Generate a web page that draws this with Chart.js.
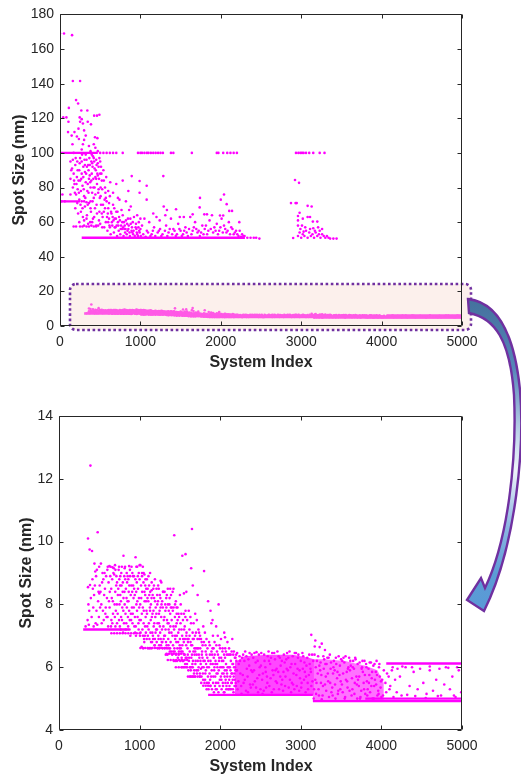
<!DOCTYPE html>
<html>
<head>
<meta charset="utf-8">
<script src="https://cdn.jsdelivr.net/npm/chart.js@4.4.1/dist/chart.umd.min.js"></script>
<style>
html,body{margin:0;padding:0;background:#fff;}
#wrap{position:relative;width:521px;height:775px;overflow:hidden;font-family:"Liberation Sans",Arial,sans-serif;}
.abs{position:absolute;}
.ttl{position:absolute;font-weight:bold;font-size:16px;line-height:18px;height:18px;color:#262626;text-align:center;white-space:nowrap;}
.rot{transform:rotate(-90deg);}
</style>
</head>
<body>
<div id="wrap">
<svg class="abs" style="left:0;top:0" width="521" height="775">
  <rect x="70" y="284" width="401" height="46" rx="6" ry="6" fill="#fcf0ec" stroke="#7030a0" stroke-width="2.6" stroke-dasharray="2.6 2.6"/>
</svg>
<div class="abs" style="left:0;top:0;width:521px;height:390px"><canvas id="c1" width="521" height="390"></canvas></div>
<div class="abs" style="left:0;top:390px;width:521px;height:385px"><canvas id="c2" width="521" height="385"></canvas></div>
<svg class="abs" style="left:0;top:0;pointer-events:none" width="521" height="775">
  <defs>
    <linearGradient id="ag" x1="0" y1="299" x2="0" y2="612" gradientUnits="userSpaceOnUse">
      <stop offset="0" stop-color="#44719d"/>
      <stop offset="0.22" stop-color="#5585b8"/>
      <stop offset="0.45" stop-color="#c9dbee"/>
      <stop offset="0.55" stop-color="#eef3fa"/>
      <stop offset="0.72" stop-color="#8fb8e2"/>
      <stop offset="0.88" stop-color="#5b9bd5"/>
      <stop offset="1" stop-color="#5a9ad6"/>
    </linearGradient>
  </defs>
  <path d="M 468 299 C 495 302, 514 330, 520 390 C 525 450, 515 540, 490 598 L 484 611 L 467 600 L 481 578 L 485 588 C 508 540, 517 460, 514 395 C 510 340, 495 318, 469 313 Z"
        fill="url(#ag)" stroke="#7030a0" stroke-width="2.4" stroke-linejoin="miter"/>
</svg>
<div class="ttl" style="left:61px;width:400px;top:353px;">System Index</div>
<div class="ttl" style="left:61px;width:400px;top:757px;">System Index</div>
<div class="ttl rot" style="left:-81.5px;width:200px;top:161px;">Spot Size (nm)</div>
<div class="ttl rot" style="left:-74px;width:200px;top:564px;">Spot Size (nm)</div>
</div>
<script>
// ---------- axes ----------
const xRange = [0, 5000];
const xStep = 1000;
const topYRange = [0, 180];
const topYStep = 20;
const botYRange = [4, 14];
const botYStep = 2;

// ---------- top panel: large spot sizes (x, y pairs) ----------
const topCloudEarly = [
0,169, 50,169, 150,168, 160,141.5, 250,141.5, 200,130.5, 225,128.5, 110,126, 265,124.5, 340,124.5,
40,120.5, 80,120.5, 105,118, 245,120.5, 270,119.5, 250,118, 285,117, 345,118, 385,116.5, 425,121.5,
460,121.5, 490,122, 100,112, 210,109.5, 235,108, 300,107.5, 435,109, 465,108.5, 155,105, 285,105,
420,105, 180,112, 300,113, 320,110, 360,104, 230,114, 145,110,
0,76, 30,76, 130,76, 270,72, 300,72, 330,71.5, 380,72, 20,72, 60,72,
250,57.5, 280,57.5, 300,58, 330,57.5, 360,57.5, 390,58, 420,57.5, 450,57.5, 170,57.5, 200,57.5,
130,95, 150,91, 170,88, 190,93, 210,86, 230,84, 250,97, 270,95, 290,92, 310,89, 330,96, 350,93,
370,87, 390,95, 410,98, 430,91, 450,96, 470,94, 490,97, 510,92, 160,80, 180,82, 200,76, 220,79,
240,73, 260,78, 280,81, 300,75, 320,83, 340,78, 360,85, 380,80, 400,77, 420,74, 440,86, 460,82,
480,79, 500,88, 520,84, 540,90, 190,68, 215,71, 260,66, 285,63, 310,69, 335,64, 360,71, 385,66,
410,62, 435,68, 460,65, 485,61, 510,70, 530,63, 555,73, 240,60, 300,61, 350,59, 400,60, 450,58,
500,59, 550,57, 170,100, 270,102, 320,99, 380,101, 440,103, 395,99, 470,101, 130,85,
355,90, 375,83, 395,88, 415,85, 445,90, 465,88, 485,85, 505,80, 365,97, 425,95, 455,93, 475,77,
495,74, 345,82, 405,92, 430,80, 310,93, 290,86, 270,88, 240,90, 215,95, 250,84,
140,90, 160,96, 175,84, 185,77, 195,97, 205,82, 220,90, 235,77, 245,94, 255,70, 265,85, 275,99,
295,79, 305,96, 315,74, 325,88, 335,92, 345,70, 355,77, 370,93, 380,68, 390,84, 400,94, 405,72,
415,80, 420,97, 440,76, 450,85, 455,70, 470,87, 480,92, 490,66, 500,95, 505,75, 515,88, 520,65,
525,79, 535,70, 545,84, 225,65, 280,68, 330,62, 375,60, 425,63, 475,58, 525,57
];
const topCloudMid = [
560,80, 580,72, 600,68, 620,75, 640,65, 660,70, 680,62, 700,66, 720,60, 740,73, 760,58, 780,64,
800,56, 820,61, 840,55, 860,67, 880,59, 900,54, 920,63, 940,57, 960,53, 980,60, 1000,56, 570,60,
590,55, 610,62, 630,53, 650,58, 670,54, 690,57, 710,52, 730,55, 750,53, 770,56, 790,52, 810,54,
830,53, 850,56, 870,52, 890,55, 910,53, 930,52, 950,56, 970,52, 990,54, 575,86, 625,83, 700,82,
780,84, 850,78, 892,86.6, 990,83.8, 1078,81, 990,77, 1285,86.6, 1078,73, 600,78, 660,77, 720,74,
820,72, 880,69, 960,64, 1000,62, 545,66, 565,77, 595,65, 615,58, 655,63, 675,68, 735,63, 765,67,
795,60, 845,62,
560,68, 570,74, 585,63, 600,60, 610,71, 620,57, 635,66, 645,60, 665,61, 680,57, 695,62, 705,58,
715,66, 725,58, 745,61, 755,56, 775,60, 785,57, 805,58, 815,56, 835,59, 855,58, 865,54, 875,62,
895,57, 905,60, 915,55, 945,59, 955,54, 975,57, 985,55, 1005,52
];
const topCloudLate = [
1020,58, 1050,62, 1080,55, 1110,60, 1140,53, 1170,57, 1200,63, 1230,55, 1260,52, 1290,69, 1320,58,
1350,54, 1380,62, 1410,56, 1440,52, 1470,59, 1500,55, 1530,53, 1560,57, 1590,52, 1620,63, 1650,55,
1680,60, 1710,54, 1740,52, 1770,58, 1800,56, 1830,53, 1860,61, 1890,64, 1920,57, 1950,59, 1980,55,
2010,62, 2040,58, 2070,54, 2100,60, 2130,57, 2160,53, 2190,55, 2220,52, 2250,51.5, 2280,52, 2330,51,
2370,51, 2410,51, 2440,51, 2480,50.5,
1741,74, 2040,76, 2000,73, 2073,70.4, 1737,68.5, 2105,66.5, 2140,66.5, 1795,64.5, 1828,64.5, 1650,64.5,
1443,67.4, 1490,63, 1540,63, 2230,60, 1990,63.8, 2030,63.8, 1310,64, 1330,67, 1160,65, 1240,61,
1035,53, 1065,51.5, 1095,54, 1125,52, 1155,55, 1185,52, 1215,54, 1245,56, 1275,53, 1305,55, 1335,52,
1365,56, 1395,53, 1425,55, 1455,53, 1485,56, 1515,52, 1545,55, 1575,54, 1605,56, 1635,53, 1665,57,
1695,56, 1725,55, 1755,54, 1785,53, 1815,58, 1845,55, 1875,56, 1905,54, 1935,55, 1965,53, 1995,57,
2025,54, 2055,56, 2085,55, 2115,53, 2145,56, 2175,54, 2205,53, 2235,55, 2265,53, 2295,52
];
const topCloudRight = [
2923,84.3, 2973,82.7, 2873,71, 2930,71, 2944,71, 3080,69.4, 3130,69, 2980,65.4, 3020,62, 2960,63.5,
2960,61, 3080,63, 3110,63, 3145,60.3, 3200,60.3, 2960,58, 3010,58, 3260,56, 2900,50.8, 2960,52,
2980,54, 3000,51, 3020,53, 3040,52, 3060,55, 3080,51, 3100,54, 3120,52, 3140,53, 3160,51, 3180,54,
3200,52, 3220,53, 3240,51, 3260,53, 3280,52, 3300,51, 3320,52, 3340,51, 3360,50.5, 3400,50.5,
3440,50.5, 2990,56, 3050,57, 3110,56, 3170,55, 3230,55, 3030,54.5, 3150,56.5, 3210,57
];
const topLevel100 = [
500,100, 540,100, 580,100, 620,100, 660,100, 700,100, 780,100, 970,100, 1000,100, 1020,100, 1050,100,
1080,100, 1100,100, 1130,100, 1160,100, 1190,100, 1220,100, 1250,100, 1280,100, 1380,100, 1410,100,
1640,100, 1950,100, 1970,100, 2030,100, 2080,100, 2120,100, 2160,100, 2200,100, 2935,100, 2965,100,
2990,100, 3010,100, 3030,100, 3060,100, 3100,100, 3150,100, 3230,100, 3290,100
];
const topRuns = [
  [0,100, 470,100],
  [5,72, 250,72],
  [270,51, 2300,51]
];

// ---------- lower band: small spot sizes (x, y pairs) ----------
const lowCloudEarly = [
360,10.1, 380,9.75, 390,12.42, 410,9.7, 360,8.55, 385,8.62, 420,8.5, 440,9.3, 330,7.3, 370,7.35,
450,9.05, 470,9.1, 480,10.3, 490,8.4, 500,8.35, 455,7.4, 475,7.35, 495,7.6, 510,7.9, 505,8.6, 430,7.3,
520,9.3, 540,9.0, 550,8.8, 560,8.3, 580,7.9, 590,7.6, 530,7.4, 570,8.5, 600,9.1, 545,7.8, 585,8.9,
610,7.3, 620,8.1, 640,9.2, 660,8.8, 680,9.15, 700,9.1, 650,7.5, 670,7.7, 690,8.0, 630,8.4, 710,8.6,
720,7.4, 685,8.95, 655,8.2, 700,7.3, 730,8.3, 740,9.1, 760,8.9, 780,9.2, 800,9.55, 750,8.0, 770,7.6,
790,8.4, 720,8.7, 765,7.2, 785,7.9, 800,8.2, 745,7.5, 810,8.9, 775,8.6, 795,7.1, 760,8.3,
820,9.2, 840,9.0, 860,8.8, 880,9.1, 900,9.2, 830,8.5, 850,8.1, 870,7.8, 890,8.3, 835,7.4, 855,7.6,
875,7.2, 895,7.5, 815,8.0, 845,8.7, 865,8.4, 885,7.0, 905,7.9, 825,7.7,
910,9.0, 930,8.9, 950,9.5, 970,9.2, 990,9.0, 920,8.6, 940,8.3, 960,8.0, 980,8.5, 1000,8.8, 915,7.7,
935,7.3, 955,7.0, 975,7.6, 995,7.9, 925,8.2, 945,7.1, 965,8.7, 985,7.4, 1005,7.0,
605,9.2, 625,9.22, 665,9.18, 695,9.25, 745,9.2, 815,9.15, 870,9.22, 960,9.2, 1000,9.25, 1040,9.2,
1030,9.0, 1060,8.95,
355,7.5, 365,8.0, 375,7.8, 395,8.2, 405,7.6, 415,8.8, 425,7.9, 435,8.3, 445,8.6, 460,8.9, 465,7.8,
485,8.1, 498,9.2, 515,8.4, 525,8.0, 535,8.7, 555,7.5, 565,9.0, 575,7.7, 595,8.2,
603,7.6, 615,8.7, 628,7.9, 636,8.9, 645,7.3, 648,8.5, 662,7.4, 668,8.1, 675,9.0, 693,7.6, 698,8.4, 705,7.8,
712,8.9, 718,8.0, 728,7.7, 735,8.5, 748,8.8, 755,7.3, 758,8.6, 768,8.1, 773,9.0, 782,7.5, 792,8.7, 798,7.8,
806,7.4, 812,8.4, 822,8.8, 828,7.2, 838,8.2, 842,7.9, 852,8.9, 858,7.3, 862,8.1, 872,8.6, 878,7.5,
882,8.9, 892,7.7, 898,8.6, 908,8.4, 912,7.4, 918,8.9, 928,7.9, 932,8.5, 942,7.6, 948,8.8, 952,7.3,
958,8.4, 968,7.8, 972,8.1, 978,8.9, 988,7.2, 992,8.2, 998,7.5
];
const lowCloudMid = [
1010,9.25, 1030,8.9, 1050,9.0, 1070,8.6, 1090,8.8, 1020,8.2, 1040,7.9, 1060,8.4, 1080,8.1, 1100,8.5,
1015,7.5, 1035,7.2, 1055,6.9, 1075,7.6, 1095,7.3, 1025,6.65, 1045,6.6, 1065,7.0, 1085,7.8, 1105,6.6,
1050,7.4, 1070,8.3,
1110,8.9, 1130,9.0, 1150,8.7, 1170,8.5, 1190,8.8, 1120,8.3, 1140,8.0, 1160,7.7, 1180,8.2, 1200,7.9,
1115,7.4, 1135,7.1, 1155,6.8, 1175,7.3, 1195,7.6, 1125,6.6, 1145,6.6, 1165,7.0, 1185,6.7, 1205,7.2,
1150,8.45, 1190,6.9, 1130,7.8,
1210,8.5, 1230,8.6, 1250,8.3, 1270,8.7, 1290,8.4, 1220,8.0, 1240,7.7, 1260,7.9, 1280,8.1, 1300,7.5,
1215,7.2, 1235,6.9, 1255,7.1, 1275,6.8, 1295,7.3, 1225,6.6, 1245,6.6, 1265,6.7, 1285,6.6, 1305,7.0,
1260,8.75, 1240,7.4,
1310,8.4, 1330,8.2, 1350,8.5, 1370,8.0, 1390,8.3, 1320,7.8, 1340,7.5, 1360,7.2, 1380,7.7, 1400,7.9,
1315,7.0, 1335,6.7, 1355,6.9, 1375,6.5, 1395,7.1, 1325,6.4, 1345,6.4, 1365,6.6, 1385,6.8, 1405,6.4,
1380,8.5, 1360,7.4,
1410,8.4, 1430,10.2, 1450,8.1, 1470,7.9, 1490,7.6, 1420,7.3, 1440,7.0, 1460,7.4, 1480,7.1, 1500,6.9,
1415,6.7, 1435,6.5, 1455,6.8, 1475,6.3, 1495,6.6, 1425,6.2, 1445,6.2, 1465,6.2, 1485,6.4, 1505,6.2,
1440,8.0, 1460,7.7, 1500,8.3, 1420,8.5,
1510,8.0, 1530,9.55, 1550,7.7, 1570,9.6, 1590,7.5, 1520,7.2, 1540,6.9, 1560,7.3, 1580,7.0, 1600,6.8,
1515,6.5, 1535,6.2, 1555,6.4, 1575,6.0, 1595,6.6, 1525,6.0, 1545,6.0, 1565,6.1, 1585,6.3, 1605,5.9,
1550,8.35, 1580,8.4, 1570,7.8, 1530,6.7,
1008,8.0, 1012,7.1, 1018,8.6, 1028,7.7, 1032,8.4, 1042,7.0, 1048,8.7, 1052,7.8, 1058,6.8, 1062,8.1,
1068,7.3, 1072,8.8, 1078,7.1, 1082,8.5, 1088,6.9, 1092,7.7, 1098,8.2, 1102,7.0,
1108,8.1, 1112,7.2, 1118,8.6, 1122,6.9, 1128,7.9, 1132,8.4, 1138,7.5, 1142,6.8, 1148,8.2, 1152,7.6,
1158,7.1, 1162,8.3, 1168,6.9, 1172,7.8, 1178,8.6, 1182,7.4, 1188,6.7, 1192,8.1, 1198,7.1,
1208,7.7, 1212,6.8, 1218,8.3, 1222,7.4, 1228,8.1, 1232,7.0, 1238,8.5, 1242,6.7, 1248,7.8, 1252,7.3,
1258,8.2, 1262,6.9, 1268,7.6, 1272,8.0, 1278,7.2, 1282,6.8, 1288,7.9, 1292,8.4, 1298,6.9,
1308,7.6, 1312,6.6, 1318,8.0, 1322,7.2, 1328,6.8, 1332,7.9, 1338,8.3, 1342,6.6, 1348,7.4, 1352,8.0,
1358,6.7, 1362,7.8, 1368,7.1, 1372,8.2, 1378,6.6, 1382,7.3, 1388,7.9, 1392,6.5, 1398,7.5,
1408,7.0, 1412,7.8, 1418,6.5, 1422,7.9, 1428,7.2, 1432,6.6, 1438,7.6, 1442,6.9, 1448,7.3, 1452,6.4,
1458,7.9, 1462,7.0, 1468,6.6, 1472,7.5, 1478,6.8, 1482,7.7, 1488,6.5, 1492,7.2, 1498,6.7,
1508,7.4, 1512,6.6, 1518,7.7, 1522,6.3, 1528,7.0, 1532,6.5, 1538,7.5, 1542,6.2, 1548,6.8, 1552,7.2,
1558,6.4, 1562,6.9, 1568,7.6, 1572,6.3, 1578,6.7, 1582,7.1, 1588,6.1, 1592,6.9, 1598,6.4
];
const lowCloudLate = [
1610,7.8, 1630,7.6, 1640,9.15, 1650,10.4, 1660,8.6, 1670,7.4, 1690,7.7, 1620,7.0, 1640,6.7, 1660,6.9,
1680,6.6, 1700,7.1, 1615,6.3, 1635,5.9, 1655,6.1, 1675,5.8, 1695,6.2, 1625,5.7, 1645,5.7, 1665,5.7,
1685,5.7, 1705,5.9, 1650,6.4, 1690,6.5,
1710,7.5, 1720,8.3, 1730,7.2, 1750,7.0, 1770,6.8, 1790,7.3, 1715,6.6, 1735,6.4, 1755,6.2, 1775,6.5,
1795,6.0, 1725,5.9, 1745,5.7, 1765,5.5, 1785,5.8, 1805,5.5, 1740,6.9, 1760,5.95, 1780,6.3, 1800,9.06,
1810,7.1, 1830,6.9, 1850,8.1, 1870,6.7, 1880,7.8, 1890,7.4, 1820,6.5, 1840,6.3, 1860,6.0, 1880,6.2,
1900,6.4, 1815,5.8, 1835,5.5, 1855,5.3, 1875,5.6, 1895,5.9, 1825,6.1, 1905,6.6,
1910,7.0, 1930,6.8, 1950,7.3, 1970,7.0, 1980,8.0, 1990,6.7, 1920,6.3, 1940,6.1, 1960,6.5, 1985,6.2,
2000,6.0, 1915,5.7, 1935,5.4, 1955,5.8, 1975,5.5, 1995,5.6, 1925,5.9, 1945,5.3, 1965,6.0, 1905,7.5,
2010,6.9, 2030,6.6, 2050,7.1, 2070,6.5, 2090,6.8, 2020,6.2, 2040,6.0, 2060,6.3, 2080,5.9, 2100,6.4,
2015,5.6, 2035,5.4, 2055,5.7, 2075,5.3, 2095,5.5, 2025,5.8, 2045,5.2, 2065,5.5, 2085,5.8, 2105,5.3,
2060,6.95,
2110,6.6, 2130,6.4, 2150,6.9, 2170,6.5, 2190,6.3, 2120,6.0, 2140,5.8, 2160,6.1, 2180,5.6, 2200,6.2,
2115,5.4, 2135,5.3, 2155,5.6, 2175,5.8, 2195,5.4, 2125,5.7, 2145,5.5, 2165,5.2, 2185,6.0, 2205,5.9,
1608,6.9, 1612,6.2, 1618,7.2, 1622,6.5, 1628,6.0, 1632,6.8, 1638,7.4, 1642,6.3, 1648,6.0, 1652,6.7,
1658,7.1, 1662,6.2, 1668,6.5, 1672,6.9, 1678,5.9, 1682,6.4, 1688,7.0, 1692,6.1, 1698,6.6,
1708,6.4, 1712,5.8, 1718,6.9, 1722,6.2, 1728,6.6, 1732,6.0, 1738,7.1, 1742,6.3, 1748,5.8, 1752,6.6,
1758,6.1, 1762,6.9, 1768,5.7, 1772,6.4, 1778,6.0, 1782,6.7, 1788,5.6, 1792,6.2, 1798,6.8,
1808,6.2, 1812,5.6, 1818,6.7, 1822,5.9, 1828,6.4, 1832,5.3, 1838,6.0, 1842,6.6, 1848,5.7, 1852,6.2,
1858,5.5, 1862,6.8, 1868,5.8, 1872,6.4, 1878,5.4, 1882,6.1, 1888,5.7, 1892,6.5, 1898,5.3,
1908,6.1, 1912,5.5, 1918,6.6, 1922,5.2, 1928,6.0, 1932,6.4, 1938,5.7, 1942,6.2, 1948,5.5, 1952,6.7,
1958,5.3, 1962,6.1, 1968,5.8, 1972,6.4, 1978,5.2, 1982,5.9, 1988,6.3, 1992,5.4, 1998,6.6,
2008,5.7, 2012,6.3, 2018,5.3, 2022,6.0, 2028,6.5, 2032,5.5, 2038,6.2, 2042,5.8, 2048,6.4, 2052,5.2,
2058,5.9, 2062,6.6, 2068,5.6, 2072,6.1, 2078,5.4, 2082,6.4, 2088,5.7, 2092,6.0, 2098,5.3,
2108,6.0, 2112,5.6, 2118,6.4, 2122,5.3, 2128,5.9, 2132,6.2, 2138,5.5, 2142,6.5, 2148,5.8, 2152,6.1,
2158,5.3, 2162,6.4, 2168,5.7, 2172,6.0, 2178,5.4, 2182,6.3, 2188,5.9, 2192,5.5, 2198,6.4
];
const lowRows = [
650,7.08, 685,7.08, 720,7.08, 755,7.08, 790,7.08, 825,7.08, 860,7.08, 895,7.08, 930,7.08, 965,7.08, 1000,7.08,
1010,6.61, 1040,6.61, 1070,6.61, 1100,6.61, 1130,6.61, 1160,6.61, 1190,6.61, 1220,6.61, 1250,6.61,
1280,6.61, 1310,6.61, 1330,6.61,
1335,6.43, 1365,6.43, 1395,6.43, 1425,6.43, 1455,6.43, 1485,6.43, 1515,6.43, 1545,6.43,
1350,6.23, 1385,6.23, 1420,6.23, 1455,6.23, 1490,6.23, 1525,6.23, 1560,6.23, 1590,6.23,
1450,6.0, 1485,6.0, 1520,6.0, 1555,6.0, 1590,6.0, 1625,6.0, 1660,6.0,
1600,5.7, 1630,5.7, 1660,5.7, 1690,5.7, 1720,5.7, 1750,5.7,
1790,5.41, 1820,5.41, 1850,5.41, 1880,5.41
];
const lowCloudDense = [
2210,6.45, 2230,6.1, 2250,5.8, 2270,6.3, 2290,5.5, 2215,5.3, 2240,6.35, 2260,5.4, 2280,5.75, 2300,6.2,
2310,6.5, 2330,5.95, 2350,6.25, 2370,5.45, 2390,6.4, 2320,5.25, 2340,5.7, 2360,6.05, 2380,5.35, 2400,5.85,
2410,6.3, 2430,5.55, 2450,6.48, 2470,5.2, 2490,6.0, 2420,5.9, 2440,6.15, 2460,5.65, 2480,6.4, 2500,5.3,
2510,6.45, 2530,5.8, 2550,6.2, 2570,5.35, 2590,6.35, 2520,5.6, 2540,5.25, 2560,6.0, 2580,5.7, 2600,6.5,
2610,5.4, 2630,6.3, 2650,5.9, 2670,6.45, 2690,5.55, 2620,6.1, 2640,5.2, 2660,5.75, 2680,6.25, 2700,5.95,
2710,6.5, 2730,5.3, 2750,6.05, 2770,5.6, 2790,6.4, 2720,5.85, 2740,6.3, 2760,5.45, 2780,5.25, 2800,6.15,
2810,5.7, 2830,6.45, 2850,5.35, 2870,6.0, 2890,5.5, 2820,6.25, 2840,5.9, 2860,6.5, 2880,5.2, 2900,6.35,
2910,5.8, 2930,6.1, 2950,5.4, 2970,6.4, 2990,5.65, 2920,5.3, 2940,6.45, 2960,5.95, 2980,5.25, 3000,6.2,
3010,5.5, 3030,6.35, 3050,5.85, 3070,6.05, 3090,5.3, 3020,6.45, 3040,5.6, 3060,5.2, 3080,6.3, 3100,5.75,
3110,6.1, 3130,5.4, 3120,5.95, 3140,6.4, 3130,7.03, 3173,6.66, 3234,6.64, 3180,6.85, 3260,6.75, 3300,6.55,
3160,5.0, 3180,5.6, 3200,6.2, 3220,5.3, 3240,5.9, 3260,4.98, 3280,6.35, 3300,5.45, 3170,6.4, 3190,5.15,
3210,5.8, 3230,6.05, 3250,5.5, 3270,5.1, 3290,6.25,
3310,5.7, 3330,6.3, 3350,5.05, 3370,5.95, 3390,5.35, 3320,6.1, 3340,5.55, 3360,6.4, 3380,5.2, 3400,5.8,
3410,6.2, 3430,5.0, 3450,5.65, 3470,6.35, 3490,5.3, 3420,5.9, 3440,6.1, 3460,5.15, 3480,5.75, 3500,6.25,
3510,5.45, 3530,6.3, 3550,5.05, 3570,5.85, 3590,6.0, 3520,5.2, 3540,6.15, 3560,5.6, 3580,5.35, 3600,6.3,
3610,5.9, 3630,5.1, 3650,6.2, 3670,5.5, 3690,5.7, 3620,6.05, 3640,5.3, 3660,5.95, 3680,6.25, 3700,5.0,
3710,5.6, 3730,6.15, 3750,5.25, 3770,5.85, 3790,6.2, 3720,5.4, 3740,5.05, 3760,6.0, 3780,5.5, 3800,5.15,
3810,6.1, 3830,5.3, 3850,5.75, 3870,6.15, 3890,5.0, 3820,5.55, 3840,5.95, 3860,5.2, 3880,5.65, 3900,6.05,
3910,5.4, 3930,5.85, 3950,5.1, 3970,6.0, 3990,5.35, 3920,5.6, 3940,6.2, 3960,5.25, 3980,5.7, 4000,5.05,
2205,5.9, 2225,5.55, 2245,6.2, 2265,5.15, 2285,6.4, 2305,5.6, 2325,6.35, 2345,5.2, 2365,6.45, 2385,5.9,
2405,5.45, 2425,6.45, 2445,5.35, 2465,6.2, 2485,5.75, 2505,6.05, 2525,5.15, 2545,6.4, 2565,5.85, 2585,5.5,
2605,6.2, 2625,5.65, 2645,6.45, 2665,5.3, 2685,5.9, 2705,5.5, 2725,6.35, 2745,5.7, 2765,6.2, 2785,5.85,
2805,5.4, 2825,5.95, 2845,6.3, 2865,5.6, 2885,6.1, 2905,5.45, 2925,6.45, 2945,5.75, 2965,6.3, 2985,5.9,
3005,5.35, 3025,5.95, 3045,6.15, 3065,5.7, 3085,5.5, 3105,6.4, 3125,5.85, 3145,5.55,
3155,6.2, 3165,5.3, 3185,6.0, 3195,5.5, 3215,6.35, 3225,5.1, 3245,6.15, 3255,5.75, 3275,5.4, 3285,5.95,
3305,6.1, 3315,5.25, 3335,5.8, 3345,6.3, 3365,5.5, 3375,6.15, 3395,5.1, 3405,6.0, 3425,5.45, 3435,6.3,
3455,5.85, 3465,5.25, 3485,6.05, 3495,5.55, 3515,6.2, 3525,5.8, 3545,5.0, 3555,6.35, 3575,5.55, 3585,5.95,
3605,5.25, 3615,6.2, 3635,5.65, 3645,6.0, 3665,5.15, 3675,6.3, 3695,5.45, 3705,6.1, 3725,5.7, 3735,5.0,
3755,5.95, 3765,6.2, 3785,5.3, 3795,5.75, 3815,6.0, 3825,5.1, 3845,5.5, 3855,6.15, 3875,5.4, 3885,5.85,
3905,5.0, 3915,6.1, 3935,5.45, 3945,5.75, 3965,5.15, 3975,6.1, 3995,5.55
];
const lowCloudTail = [
4010,5.6, 4030,5.9, 4060,5.2, 4090,5.7, 4110,5.4, 4050,5.5, 4070,5.8, 4100,5.3, 4020,5.1, 4130,5.9,
4170,5.6, 4190,5.2, 4230,5.7, 4300,6.0, 4350,5.4, 4400,5.85, 4450,5.3, 4480,5.95, 4520,5.5, 4560,5.15,
4600,5.9, 4640,5.25, 4680,5.6, 4720,5.95, 4740,5.1, 4780,5.45, 4800,6.0, 4850,5.3, 4880,5.7, 4920,5.05,
4960,5.9, 4990,5.2, 4150,5.05, 4250,5.1, 4320,5.12, 4420,5.08, 4550,5.02, 4700,5.08, 4900,5.1, 4140,6.0,
4200,5.95, 4260,6.02, 4380,6.0, 4600,6.02, 4830,5.98, 4940,6.0
];
const lowRuns = [
  [300,7.2, 870,7.2],
  [1850,5.12, 3150,5.12],
  [3150,4.92, 5000,4.92],
  [3800,5.0, 5000,5.0],
  [4060,6.12, 5000,6.12]
];
const denseAUpper = [2180,6.15, 2300,6.35, 2600,6.4, 2900,6.4, 3100,6.3, 3160,6.25];
const denseALower = [2180,5.12, 3160,5.12];
const denseBUpper = [3150,6.25, 3300,6.25, 3550,6.2, 3800,6.05, 3950,5.9, 4030,5.5];
const denseBLower = [3150,4.92, 4030,4.92];

// ---------- helpers ----------
function pairs(a){ const r=[]; for(let i=0;i<a.length;i+=2) r.push({x:a[i], y:a[i+1]}); return r; }

const MAG = '#ff00ff';
const PINK = '#ff5ae6';
const TXT = '#262626';
Chart.defaults.font.family = '"Liberation Sans", Arial, sans-serif';
Chart.defaults.color = TXT;

function scatterSet(arr, color, r){
  return {data: pairs(arr), showLine:false, pointRadius:r, pointHoverRadius:r, pointBorderWidth:0,
          backgroundColor:color, borderColor:color, pointStyle:'circle'};
}
function runSets(runs, color, w){
  return runs.map(a => ({data: pairs(a), showLine:true, pointRadius:0, borderWidth:w, borderColor:color, fill:false}));
}
function bandSets(up, lo, fillColor){
  return [
    {data: pairs(up), showLine:true, pointRadius:0, borderWidth:0, borderColor:'rgba(0,0,0,0)', backgroundColor:fillColor, fill:'+1'},
    {data: pairs(lo), showLine:true, pointRadius:0, borderWidth:0, borderColor:'rgba(0,0,0,0)', fill:false}
  ];
}

const boxPlugin = {
  id:'boxTicks',
  afterDraw(chart){
    const {ctx, chartArea:a, scales:{x, y}} = chart;
    const L = Math.round(a.left)+0.5, R = Math.round(a.right)-0.5, T = Math.round(a.top)+0.5, B = Math.round(a.bottom)-0.5;
    ctx.save();
    ctx.strokeStyle = TXT; ctx.lineWidth = 1;
    ctx.beginPath();
    ctx.rect(L, T, R-L, B-T);
    x.ticks.forEach(t => {
      const px = Math.round(x.getPixelForValue(t.value))+0.5;
      ctx.moveTo(px, B); ctx.lineTo(px, B-4);
      ctx.moveTo(px, T); ctx.lineTo(px, T+4);
    });
    y.ticks.forEach(t => {
      const py = Math.round(y.getPixelForValue(t.value))+0.5;
      ctx.moveTo(L, py); ctx.lineTo(L+4, py);
      ctx.moveTo(R, py); ctx.lineTo(R-4, py);
    });
    ctx.stroke();
    ctx.restore();
  }
};

function makeChart(id, datasets, yRange, yStep, pad, yW, xH){
  return new Chart(document.getElementById(id), {
    type:'scatter',
    data:{datasets},
    options:{
      responsive:false, animation:false, events:[],
      layout:{padding:pad},
      plugins:{legend:{display:false}, tooltip:{enabled:false}},
      scales:{
        x:{type:'linear', min:xRange[0], max:xRange[1],
           grid:{display:false, drawTicks:false}, border:{display:false},
           ticks:{stepSize:xStep, autoSkip:false, maxRotation:0, padding:8, color:TXT, font:{size:14},
                  callback:v => String(v)},
           afterFit(s){ s.height = xH; }},
        y:{type:'linear', min:yRange[0], max:yRange[1],
           grid:{display:false, drawTicks:false}, border:{display:false},
           ticks:{stepSize:yStep, autoSkip:false, padding:6, color:TXT, font:{size:14},
                  callback:v => String(v)},
           afterFit(s){ s.width = yW; }}
      }
    },
    plugins:[boxPlugin]
  });
}

const lowPointArrays = [lowCloudEarly, lowCloudMid, lowCloudLate, lowRows, lowCloudDense, lowCloudTail];

// top panel
const topSets = [
  ...bandSets(denseAUpper, denseALower, 'rgba(255,90,230,0.7)'),
  ...bandSets(denseBUpper, denseBLower, 'rgba(255,90,230,0.6)'),
  ...lowPointArrays.map(a => scatterSet(a, PINK, 1.3)),
  ...runSets(lowRuns, PINK, 2.4),
  ...runSets(topRuns, MAG, 2.4),
  scatterSet(topLevel100, MAG, 1.3),
  scatterSet(topCloudEarly, MAG, 1.3),
  scatterSet(topCloudMid, MAG, 1.3),
  scatterSet(topCloudLate, MAG, 1.3),
  scatterSet(topCloudRight, MAG, 1.3)
];
makeChart('c1', topSets, topYRange, topYStep, {left:0, top:12, right:59, bottom:0}, 60, 64);

// bottom panel
const botSets = [
  ...bandSets(denseAUpper, denseALower, 'rgba(255,0,255,0.72)'),
  ...bandSets(denseBUpper, denseBLower, 'rgba(255,0,255,0.55)'),
  ...runSets(lowRuns, MAG, 2.4),
  ...lowPointArrays.map(a => scatterSet(a, MAG, 1.3))
];
makeChart('c2', botSets, botYRange, botYStep, {left:0, top:26, right:59, bottom:0}, 59, 45);
</script>
</body>
</html>
